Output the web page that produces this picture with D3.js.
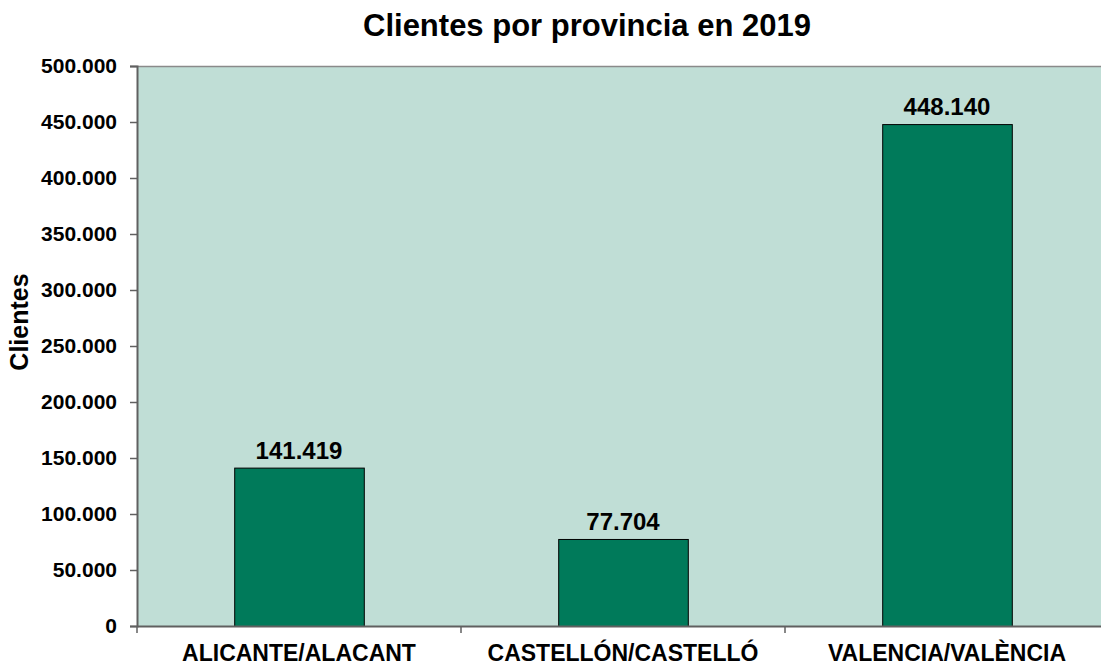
<!DOCTYPE html>
<html>
<head>
<meta charset="utf-8">
<script src="https://cdn.jsdelivr.net/npm/d3@7"></script>
<style>
  body { margin: 0; background: #fff; }
  text { font-family: "Liberation Sans", Arial, sans-serif; font-weight: bold; fill: #000; }
</style>
</head>
<body>
<div id="chart"></div>
<script>
var provincias = ['ALICANTE/ALACANT', 'CASTELLÓN/CASTELLÓ', 'VALENCIA/VALÈNCIA'];
var clientes = [141419, 77704, 448140];
var yTicks = [0, 50000, 100000, 150000, 200000, 250000, 300000, 350000, 400000, 450000, 500000];
var titulo = 'Clientes por provincia en 2019';

var width = 1101, height = 666;
var plotLeft = 137, plotTop = 66, plotRight = 1109, plotBottom = 626;

var fmt = function (v) {
    return d3.format(',')(v).replace(/,/g, '.');
};

var svg = d3.select('#chart').append('svg')
    .attr('width', width)
    .attr('height', height);

var x = d3.scaleBand()
    .domain(provincias)
    .range([plotLeft, plotRight])
    .paddingInner(0.6)
    .paddingOuter(0.3);

var xb = d3.scaleBand().domain(provincias).range([plotLeft, plotRight]);

var y = d3.scaleLinear()
    .domain([0, 500000])
    .range([plotBottom, plotTop]);

// plot area
svg.append('rect')
    .attr('x', plotLeft)
    .attr('y', plotTop)
    .attr('width', plotRight - plotLeft)
    .attr('height', plotBottom - plotTop)
    .style('fill', '#c0ded6');

svg.append('line')
    .attr('x1', plotLeft).attr('x2', plotRight)
    .attr('y1', plotTop + 0.5).attr('y2', plotTop + 0.5)
    .style('stroke', '#8a8a8a')
    .style('stroke-width', 1.5);

// bars
svg.selectAll('.bar')
    .data(clientes)
    .enter()
    .append('rect')
    .attr('class', 'bar')
    .attr('x', function (d, i) { return x(provincias[i]) + 0.5; })
    .attr('y', function (d) { return y(d) + 0.5; })
    .attr('width', x.bandwidth())
    .attr('height', function (d) { return plotBottom - y(d); })
    .style('fill', '#007a5a')
    .style('stroke', '#000')
    .style('stroke-width', 1);

// value labels
svg.selectAll('.val')
    .data(clientes)
    .enter()
    .append('text')
    .attr('class', 'val')
    .attr('x', function (d, i) { return x(provincias[i]) + x.bandwidth() / 2; })
    .attr('y', function (d) { return y(d) - 9; })
    .attr('text-anchor', 'middle')
    .style('font-size', '24px')
    .text(fmt);

// y axis
var yAxis = svg.append('g')
    .attr('transform', 'translate(' + plotLeft + ',0)')
    .call(d3.axisLeft(y).tickValues(yTicks).tickFormat(fmt).tickSize(7).tickPadding(13));
yAxis.select('.domain').style('stroke', '#606060').style('stroke-width', 2);
yAxis.selectAll('.tick line').style('stroke', '#606060').style('stroke-width', 1.5);
yAxis.selectAll('.tick text').style('font-size', '21px').style('font-family', '"Liberation Sans", Arial, sans-serif');

// x axis
var xAxis = svg.append('g')
    .attr('transform', 'translate(0,' + plotBottom + ')')
    .call(d3.axisBottom(xb).tickSize(0).tickPadding(19));
xAxis.select('.domain').style('stroke', '#606060').style('stroke-width', 2);
xAxis.selectAll('.tick text').style('font-size', '23px').style('font-family', '"Liberation Sans", Arial, sans-serif');

// category separators
svg.selectAll('.sep')
    .data(provincias)
    .enter()
    .append('line')
    .attr('class', 'sep')
    .attr('x1', function (d) { return xb(d); })
    .attr('x2', function (d) { return xb(d); })
    .attr('y1', plotBottom)
    .attr('y2', plotBottom + 7)
    .style('stroke', '#606060')
    .style('stroke-width', 1.5);

// y label
svg.append('text')
    .attr('transform', 'translate(28,' + 322 + ') rotate(-90)')
    .attr('text-anchor', 'middle')
    .style('font-size', '25px')
    .text('Clientes');

// title
svg.append('text')
    .attr('x', 587)
    .attr('y', 36)
    .attr('text-anchor', 'middle')
    .style('font-size', '31px')
    .text(titulo);
</script>
</body>
</html>
